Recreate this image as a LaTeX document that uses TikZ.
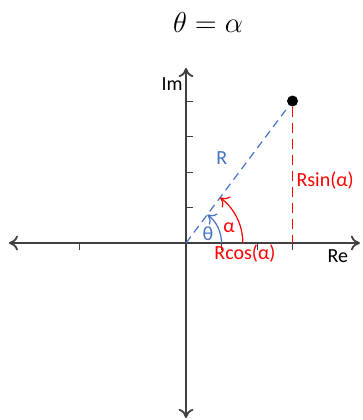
\documentclass[tikz,border=0pt]{standalone}
\usepackage{amsmath}
\usepackage[no-math]{fontspec}
\setmainfont{Carlito}
\usepackage{xcolor}
\usetikzlibrary{arrows.meta}

\definecolor{axgray}{HTML}{404040}
\definecolor{polblue}{HTML}{4472C4}
\definecolor{polred}{HTML}{FF0000}

\begin{document}
\begin{tikzpicture}[x=17.75pt, y=17.75pt, font=\fontsize{10}{12}\selectfont,
    axis/.style={draw=axgray, line width=0.9pt, {To[length=1.6mm,width=2.6mm]}-{To[length=1.6mm,width=2.6mm]}},
    tickmark/.style={draw=axgray, line width=0.5pt},
    bline/.style={draw=polblue, line width=0.6pt, dash pattern=on 4pt off 2.6pt},
    rline/.style={draw=polred, line width=0.6pt, dash pattern=on 5pt off 3pt},
    arcline/.style={line width=0.6pt, -{To[length=1.4mm,width=2.4mm]}},
    dot/.style={circle, fill=black, inner sep=0pt, minimum size=5.5pt}]
  \useasboundingbox (-5.24,-4.986) rectangle (4.958,6.845);

  \node[font=\Large] (title) at (0.62,6.225) {$\theta = \alpha$};

  % axes
  \coordinate (O) at (0,0);
  \coordinate (xmin) at (-4.99,0);
  \coordinate (xmax) at (4.9,0);
  \coordinate (ymin) at (0,-4.93);
  \coordinate (ymax) at (0,4.93);
  \draw[axis] (xmin) -- (xmax);
  \draw[axis] (ymin) -- (ymax);
  \foreach \x in {-3,1,2,3}
    \draw[tickmark] (\x,0) -- ++(0,-0.2);
  \foreach \y in {1,...,4}
    \draw[tickmark] (0,\y) -- ++(0.2,0);
  \node (im) at (-0.39,4.48) {Im};
  \node (re) at (4.28,-0.37) {Re};

  % the point and its parts
  \node[dot] (P) at (3,4) {};
  \coordinate (Px) at (3,0);
  \draw[bline] (O) -- (P);
  \draw[rline] (P) -- (Px);
  \draw[arcline, polblue] (1,0) arc[start angle=0, end angle=53.13, radius=1];
  \draw[arcline, polred] (1.6,0) arc[start angle=0, end angle=53.13, radius=1.6];

  \node[text=polblue] (rlab) at (1.01,2.39) {R};
  \node[text=polblue] (thlab) at (0.62,0.25) {θ};
  \node[text=polred] (allab) at (1.21,0.42) {α};
  \node[text=polred] (sinlab) at (3.92,1.77) {Rsin(α)};
  \node[text=polred] (coslab) at (1.66,-0.31) {Rcos(α)};
\end{tikzpicture}
\end{document}
